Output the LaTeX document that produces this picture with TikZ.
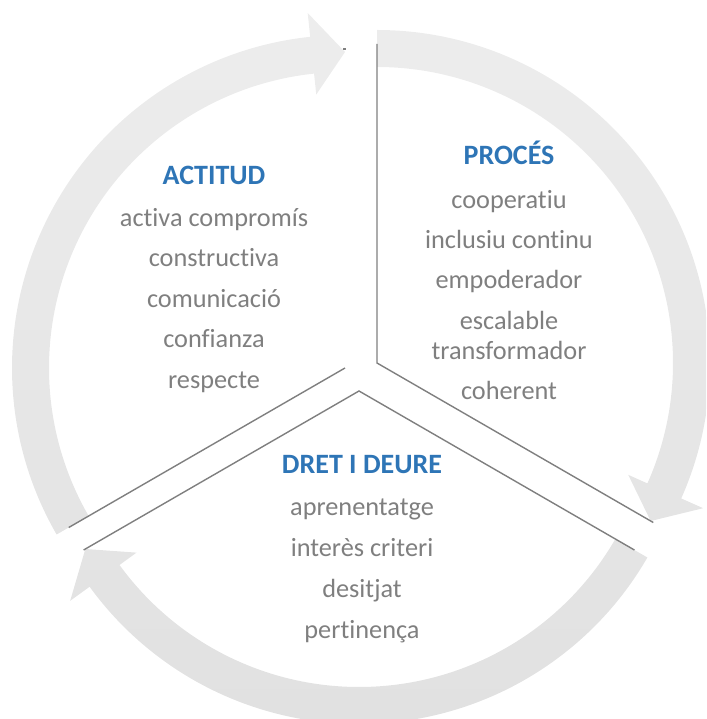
\documentclass[tikz,border=0pt]{standalone}
\usepackage{fontspec}
\setmainfont{Carlito}[Ligatures=NoCommon]
\usetikzlibrary{calc}
\definecolor{ttl}{HTML}{2E75B6}
\definecolor{txt}{HTML}{7F7F7F}
\definecolor{edgec}{HTML}{7F7F7F}
\definecolor{ringa}{HTML}{EDEDED}
\definecolor{ringc}{HTML}{E1E1E1}
\begin{document}
\begin{tikzpicture}[x=1pt,y=1pt,
  titletext/.style={font=\fontsize{28}{32}\selectfont\bfseries, text=ttl, anchor=base, inner sep=0pt},
  itemtext/.style={font=\fontsize{26.3}{30}\selectfont, text=txt, anchor=base, inner sep=0pt},
  edgeline/.style={draw=edgec, line width=1.4pt}]
\clip (0,0) rectangle (706,719);
\coordinate (A1) at (377,356);
\coordinate (A2) at (359,328);
\coordinate (A3) at (345,351);
% the three curved arrows, shaded together from top to bottom
\begin{scope}
\clip
  % arrow of PROCES (90 -> -30)
  ($(A1)+(90:296)$) -- ($(A1)+(90:333)$) arc[start angle=90, end angle=-24, radius=333]
  -- ($(A1)+(-24:357)$) -- ($(A1)+(-30:316)$) -- ($(A1)+(-24:275)$) -- ($(A1)+(-24:296)$)
  arc[start angle=-24, end angle=90, radius=296] -- cycle
  % arrow of DRET I DEURE (-30 -> -150)
  ($(A2)+(-30:296)$) -- ($(A2)+(-30:333)$) arc[start angle=-30, end angle=-144, radius=333]
  -- ($(A2)+(-144:357)$) -- ($(A2)+(-150:316)$) -- ($(A2)+(-144:275)$) -- ($(A2)+(-144:296)$)
  arc[start angle=-144, end angle=-30, radius=296] -- cycle
  % arrow of ACTITUD (210 -> 90)
  ($(A3)+(210:296)$) -- ($(A3)+(210:333)$) arc[start angle=210, end angle=96, radius=333]
  -- ($(A3)+(96:357)$) -- ($(A3)+(90:316)$) -- ($(A3)+(96:275)$) -- ($(A3)+(96:296)$)
  arc[start angle=96, end angle=210, radius=296] -- cycle;
\shade[top color=ringa, bottom color=ringc] (0,0) rectangle (706,719);
\end{scope}
% sector edges
\coordinate (E1a) at ($(A1)+(90:319)$);
\coordinate (E1b) at ($(A1)+(-30:319)$);
\coordinate (E2a) at ($(A2)+(-30:318)$);
\coordinate (E2b) at ($(A2)+(210:318)$);
\coordinate (E3a) at ($(A3)+(210:319)$);
\coordinate (E3t) at ($(A3)+(90:319)+(-2,0)$);
\draw[edgeline] (E1a) -- (A1) -- (E1b);
\draw[edgeline] (E2a) -- (A2) -- (E2b);
\draw[edgeline] (A3) -- (E3a);
\draw[edgeline] (E3t) -- ++(3,0);
% ACTITUD
\node[titletext] (t1) at (214,534) {ACTITUD};
\node[itemtext] (t1a) at (214,492) {activa compromís};
\node[itemtext] (t1b) at (214,452) {constructiva};
\node[itemtext] (t1c) at (214,411.5) {comunicació};
\node[itemtext] (t1d) at (214,371) {confianza};
\node[itemtext] (t1e) at (214,330.5) {respecte};
% PROCES
\node[titletext] (t2) at (509,554) {PROCÉS};
\node[itemtext] (t2a) at (509,510.7) {cooperatiu};
\node[itemtext] (t2b) at (509,470.7) {inclusiu continu};
\node[itemtext] (t2c) at (509,430.5) {empoderador};
\node[itemtext] (t2d) at (509,389) {escalable};
\node[itemtext] (t2e) at (509,359.7) {transformador};
\node[itemtext] (t2f) at (509,319.7) {coherent};
% DRET I DEURE
\node[titletext] (t3) at (362,245.7) {DRET I DEURE};
\node[itemtext] (t3a) at (362,203) {aprenentatge};
\node[itemtext] (t3b) at (362,162.3) {interès criteri};
\node[itemtext] (t3c) at (362,121.7) {desitjat};
\node[itemtext] (t3d) at (362,80) {pertinença};
\end{tikzpicture}
\end{document}
